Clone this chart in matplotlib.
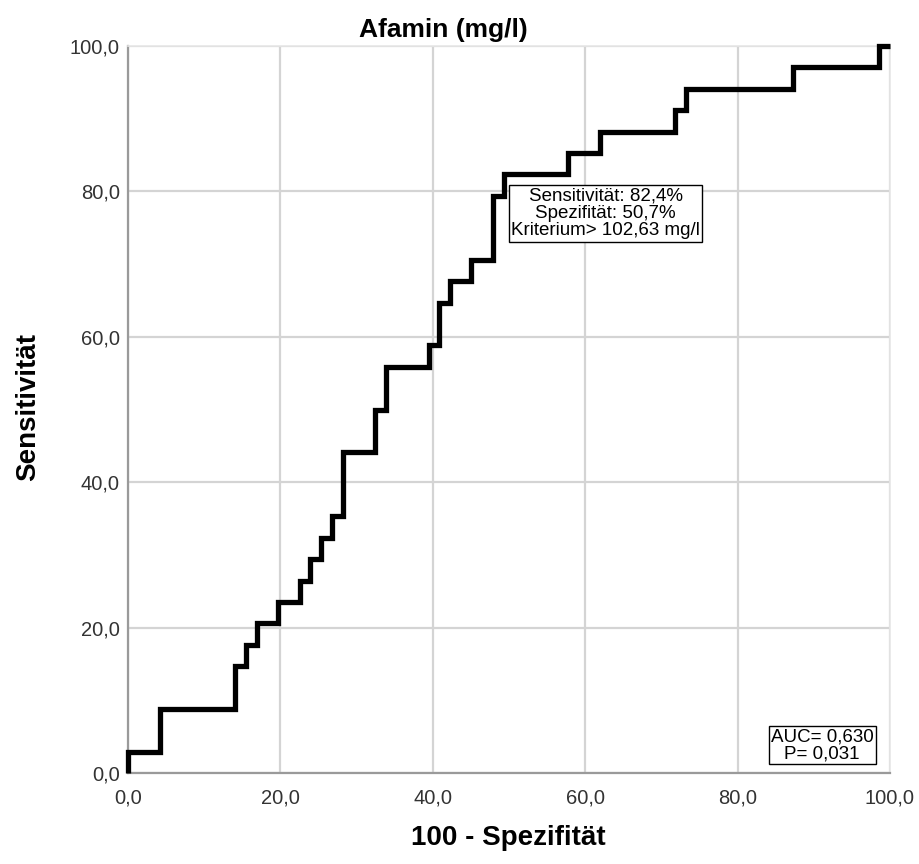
import matplotlib
matplotlib.use('Agg')
import matplotlib.pyplot as plt
import numpy as np

# ROC-Kurve Afamin: Eckpunkte der Treppe als Zählwerte
# (falsch-positive von 71 Negativen, richtig-positive von 34 Positiven)
n_neg = 71
n_pos = 34
fp_counts = [0, 0, 3, 3, 10, 10, 11, 11, 12, 12, 14, 14, 16, 16, 17, 17, 18, 18,
             19, 19, 20, 20, 23, 23, 24, 24, 28, 28, 29, 29, 30, 30, 32, 32,
             34, 34, 35, 35, 41, 41, 44, 44, 51, 51, 52, 52, 62, 62, 70, 70, 71]
tp_counts = [0, 1, 1, 3, 3, 5, 5, 6, 6, 7, 7, 8, 8, 9, 9, 10, 10, 11,
             11, 12, 12, 15, 15, 17, 17, 19, 19, 20, 20, 22, 22, 23, 23, 24,
             24, 27, 27, 28, 28, 29, 29, 30, 30, 31, 31, 32, 32, 33, 33, 34, 34]

ticks = [0, 20, 40, 60, 80, 100]
tick_labels = ['0,0', '20,0', '40,0', '60,0', '80,0', '100,0']
cut_text = 'Sensitivität: 82,4%\nSpezifität: 50,7%\nKriterium> 102,63 mg/l'
auc_text = 'AUC= 0,630\nP= 0,031'

plt.rcParams['font.family'] = ['Liberation Sans', 'DejaVu Sans']

x = np.array(fp_counts) / n_neg * 100
y = np.array(tp_counts) / n_pos * 100

fig = plt.figure(figsize=(9.2, 8.64), dpi=100)
ax = fig.add_axes([128 / 920, 91 / 864, 762 / 920, 727 / 864])

ax.plot(x, y, color='black', lw=3.8, solid_joinstyle='miter',
        solid_capstyle='butt', zorder=3, clip_on=False)

ax.set_xlim(0, 100)
ax.set_ylim(0, 100)
ax.set_xticks(ticks)
ax.set_yticks(ticks)
ax.set_xticklabels(tick_labels)
ax.set_yticklabels(tick_labels)
ax.tick_params(length=0, labelsize=14.5, colors='#333333')
ax.tick_params(axis='x', pad=11)
ax.tick_params(axis='y', pad=6)
ax.grid(True, color='#d4d4d4', lw=1.6)
ax.set_axisbelow(True)

for side in ['left', 'bottom']:
    ax.spines[side].set_color('#9a9a9a')
    ax.spines[side].set_linewidth(1.6)
for side in ['top', 'right']:
    ax.spines[side].set_color('#e6e6e6')
    ax.spines[side].set_linewidth(1.2)

# Titel und Achsentitel wie in der SPSS-Ausgabe platziert
fig.text(443 / 920, 1 - 30 / 864, 'Afamin (mg/l)', ha='center', va='center',
         fontsize=19, fontweight='bold')
fig.text(508 / 920, 1 - 838 / 864, '100 - Spezifität', ha='center', va='center',
         fontsize=20, fontweight='bold')
fig.text(28 / 920, 1 - 407 / 864, 'Sensitivität', ha='center', va='center',
         rotation=90, fontsize=20, fontweight='bold')

ax.text(62.7, 77.0, cut_text, ha='center', va='center', fontsize=13.5,
        linespacing=1.05, zorder=4,
        bbox=dict(boxstyle='square,pad=0.12', fc='white', ec='black', lw=1))
ax.text(91.1, 3.85, auc_text, ha='center', va='center', fontsize=13.5,
        linespacing=1.0, zorder=4,
        bbox=dict(boxstyle='square,pad=0.12', fc='white', ec='black', lw=1))

fig.savefig('out.png', dpi=100)
plt.close(fig)
